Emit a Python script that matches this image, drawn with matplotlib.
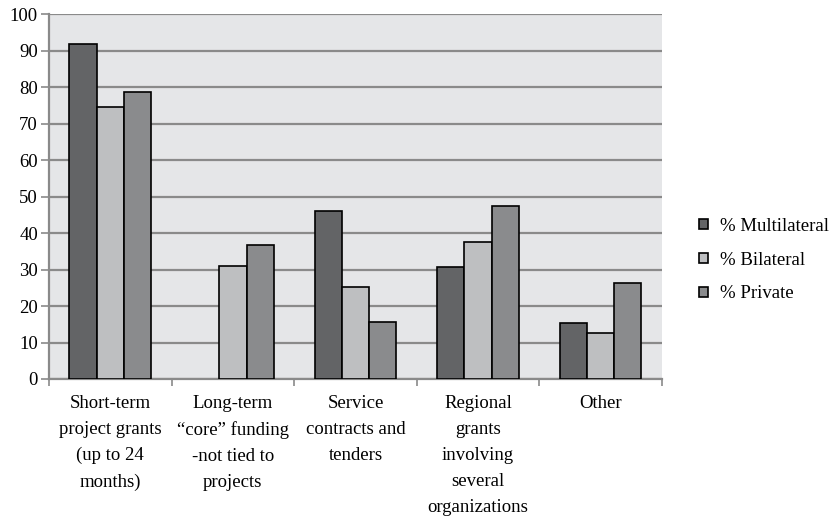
import numpy as np
import matplotlib.pyplot as plt

plt.rcParams['font.family'] = ['Liberation Serif', 'DejaVu Serif']

categories = ["Short-term\nproject grants\n(up to 24\nmonths)",
              "Long-term\n\u201ccore\u201d funding\n-not tied to\nprojects",
              "Service\ncontracts and\ntenders",
              "Regional\ngrants\ninvolving\nseveral\norganizations",
              "Other"]
multilateral = [92.0, 0, 46.1, 30.7, 15.4]
bilateral = [74.6, 31.1, 25.1, 37.6, 12.6]
private = [78.6, 36.8, 15.7, 47.4, 26.3]

series = [("% Multilateral", multilateral, "#636466"),
          ("% Bilateral", bilateral, "#bebfc1"),
          ("% Private", private, "#8a8b8d")]

fs = 13.5

fig = plt.figure(figsize=(8.35, 5.17), dpi=100)
ax = fig.add_axes([0.0587, 0.267, 0.734, 0.705])
ax.set_facecolor("#e5e6e8")

x = np.arange(len(categories))
w = 1 / 4.5
for i, (name, vals, col) in enumerate(series):
    bars = ax.bar(x + (i - 1) * w, vals, w, color=col, edgecolor="black",
                  linewidth=1.2, label=name, zorder=3)
    # no outline for empty bars
    for b, v in zip(bars, vals):
        if v == 0:
            b.set_linewidth(0)

ax.set_xlim(-0.5, len(categories) - 0.5)
ax.set_ylim(0, 100)
ax.set_yticks(range(0, 101, 10))
ax.yaxis.grid(True, color="#8a8a8a", linewidth=1.6, zorder=0)
ax.tick_params(axis="y", labelsize=fs, length=6, color="#8a8a8a", width=1.2, pad=2)

# category labels centred, tick marks on the group boundaries
ax.set_xticks(x)
ax.set_xticklabels(categories, fontsize=fs, linespacing=1.69, va="top")
ax.tick_params(axis="x", length=0, pad=11.5)
ax.set_xticks(np.arange(-0.5, len(categories), 1), minor=True)
ax.tick_params(axis="x", which="minor", length=5, color="#8a8a8a", width=1.2)

for s in ["top", "right"]:
    ax.spines[s].set_visible(False)
for s in ["left", "bottom"]:
    ax.spines[s].set_color("#8a8a8a")
    ax.spines[s].set_linewidth(1.6)

fig.legend(loc="center left", bbox_to_anchor=(0.826, 0.497), frameon=False,
           fontsize=fs, handlelength=0.45, handleheight=0.45,
           handletextpad=0.65, labelspacing=0.9, borderpad=0)

fig.savefig("out.png", dpi=100)
